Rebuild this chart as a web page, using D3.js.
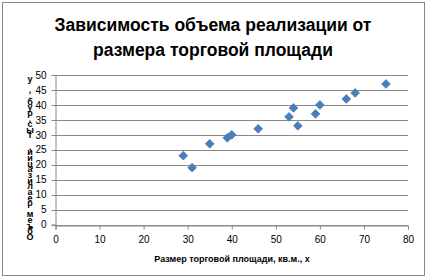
<!DOCTYPE html>
<html>
<head>
<meta charset="utf-8">
<script src="https://cdn.jsdelivr.net/npm/d3@7"></script>
<style>
  body { margin: 0; background: #fff; }
  text { font-family: "Liberation Sans", Arial, sans-serif; }
</style>
</head>
<body>
<svg id="chart" width="427" height="278"></svg>
<script>
// data
const areaX = [29, 31, 35, 39, 40, 46, 53, 54, 55, 59, 60, 66, 68, 75];
const salesY = [23, 19, 27, 29, 30, 32, 36, 39, 33, 37, 40, 42, 44, 47];
const xTicks = [0, 10, 20, 30, 40, 50, 60, 70, 80];
const yTicks = [0, 5, 10, 15, 20, 25, 30, 35, 40, 45, 50];
const titleLines = ["Зависимость объема реализации от", "размера торговой площади"];
const xTitle = "Размер торговой площади, кв.м., х";
const yTitle = "Объем реализации, тыс.руб., у";

const svg = d3.select("#chart");
const W = 427, H = 278;

// outer frame
svg.append("rect")
    .attr("x", 2.5).attr("y", 2.5)
    .attr("width", W - 5).attr("height", H - 5)
    .attr("fill", "#fff")
    .attr("stroke", "#888").attr("stroke-width", 1);

const margin = {left: 55.5, right: 19, top: 75, bottom: 53.5};

const x = d3.scaleLinear().domain([0, 80]).range([margin.left, W - margin.right]);
const y = d3.scaleLinear().domain([0, 50]).range([H - margin.bottom, margin.top]);

// title
svg.append("g").selectAll("text")
    .data(titleLines)
    .join("text")
    .attr("x", 213)
    .attr("y", (d, i) => 31 + i * 25)
    .attr("text-anchor", "middle")
    .attr("font-size", 17.5)
    .attr("font-weight", "bold")
    .text(d => d);

// gridlines
svg.append("g").selectAll("line")
    .data(yTicks)
    .join("line")
    .attr("x1", margin.left - 4)
    .attr("x2", W - margin.right)
    .attr("y1", d => Math.round(y(d)) + 0.5)
    .attr("y2", d => Math.round(y(d)) + 0.5)
    .attr("stroke", "#888")
    .attr("stroke-width", 1);

// y axis
const yAxis = svg.append("g")
    .attr("transform", `translate(${margin.left},0)`)
    .call(d3.axisLeft(y).tickValues(yTicks).tickSize(4).tickPadding(3));
yAxis.select(".domain").attr("stroke", "#888");
yAxis.selectAll(".tick line").remove();
yAxis.selectAll(".tick text")
    .attr("font-size", 10)
    .attr("font-family", "Liberation Sans, Arial, sans-serif")
    .attr("fill", "#000")
    .attr("dx", -2);

// x axis
const xAxis = svg.append("g")
    .attr("transform", `translate(0,${Math.round(y(0)) + 0.5})`)
    .call(d3.axisBottom(x).tickValues(xTicks).tickSize(4).tickPadding(6));
xAxis.select(".domain").attr("stroke", "#888");
xAxis.selectAll(".tick line").attr("stroke", "#888");
xAxis.selectAll(".tick text")
    .attr("font-size", 10)
    .attr("font-family", "Liberation Sans, Arial, sans-serif")
    .attr("fill", "#000");

// axis titles
svg.append("text")
    .attr("x", 232)
    .attr("y", 262)
    .attr("text-anchor", "middle")
    .attr("font-size", 9)
    .attr("font-weight", "bold")
    .text(xTitle);

// stacked y title, read bottom to top (as in the original)
const chars = Array.from(yTitle);
const yStep = (240 - 82) / (chars.length - 1);
svg.append("g").selectAll("text")
    .data(chars)
    .join("text")
    .attr("x", 30)
    .attr("y", (d, i) => 240 - i * yStep)
    .attr("text-anchor", "middle")
    .attr("font-size", 9)
    .attr("font-weight", "bold")
    .text(d => d);

// points: rotated squares look like Excel diamonds
const symbol = d3.symbol().type(d3.symbolSquare).size(38);
svg.append("g").selectAll("path")
    .data(areaX.map((v, i) => [v, salesY[i]]))
    .join("path")
    .attr("transform", d => `translate(${x(d[0])},${y(d[1])}) rotate(45)`)
    .attr("d", symbol)
    .attr("fill", "#4a7ebb")
    .attr("stroke", "#4a7ebb")
    .attr("stroke-width", 0.8);
</script>
</body>
</html>
